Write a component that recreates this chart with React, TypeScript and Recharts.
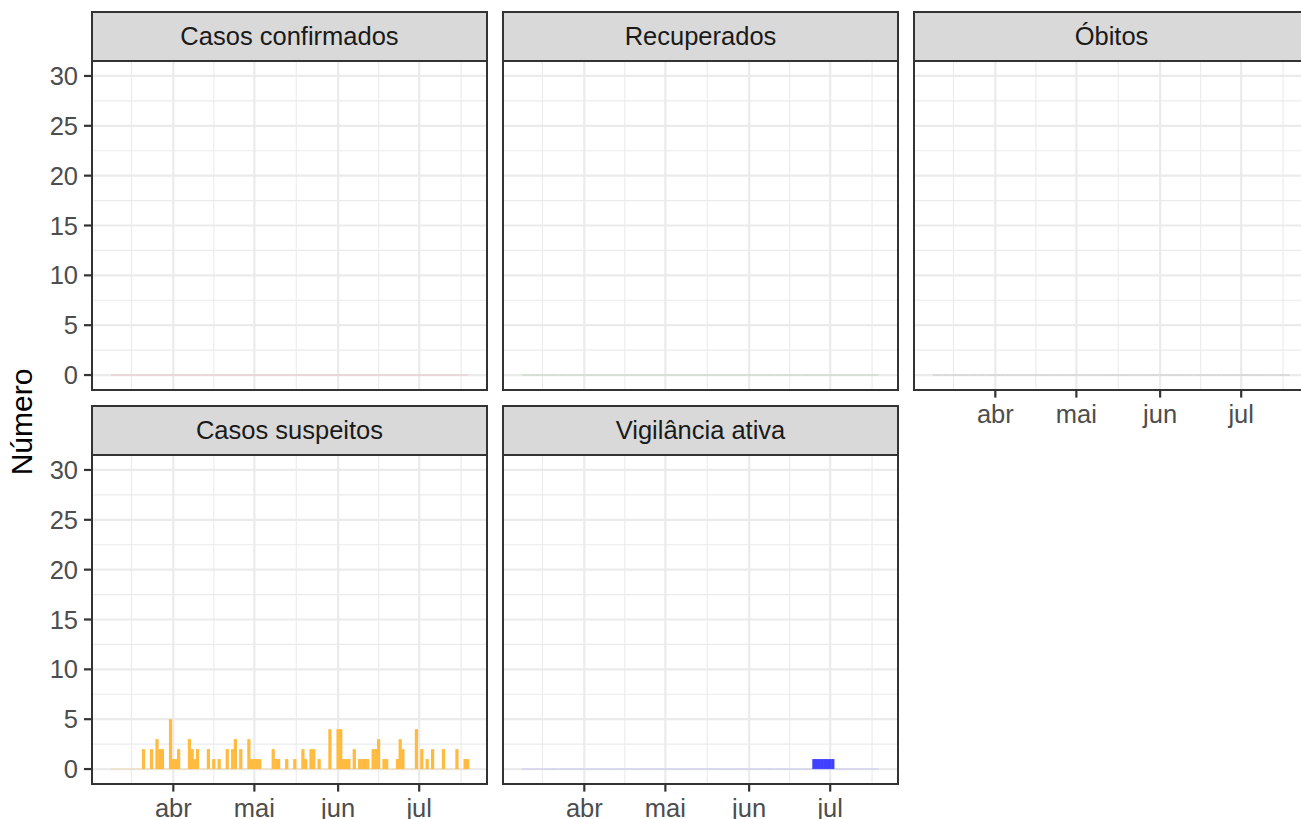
import { ComposedChart, Bar, Line, XAxis, YAxis, CartesianGrid } from 'recharts'

// período dos dados (dias com valor 0 também aparecem como linha tênue)
const inicio = '03-09'
const fim = '07-19'

const suspeitosDatas = [
  '03-21', '03-24', '03-26', '03-27', '03-28', '03-31', '04-01', '04-02', '04-03', '04-07',
  '04-08', '04-09', '04-10', '04-14', '04-16', '04-18', '04-21', '04-23', '04-24', '04-26',
  '04-29', '04-30', '05-01', '05-02', '05-03', '05-08', '05-09', '05-10', '05-13', '05-16',
  '05-19', '05-20', '05-22', '05-23', '05-25', '05-29', '06-01', '06-02', '06-03', '06-04',
  '06-05', '06-07', '06-09', '06-10', '06-11', '06-12', '06-14', '06-15', '06-16', '06-18',
  '06-19', '06-23', '06-24', '06-25', '06-30', '07-02', '07-04', '07-06', '07-10', '07-15',
  '07-18', '07-19',
]
const suspeitosValores = [
  2, 2, 3, 2, 2, 5, 1, 1, 2, 3,
  2, 1, 2, 2, 1, 1, 2, 2, 3, 2,
  3, 1, 1, 1, 1, 2, 1, 1, 1, 1,
  2, 1, 2, 2, 1, 4, 4, 4, 1, 1,
  1, 2, 1, 1, 1, 1, 2, 2, 3, 1,
  1, 1, 3, 2, 4, 2, 1, 2, 2, 2,
  1, 1,
]

const vigilanciaDatas = ['06-25', '06-26', '06-27', '06-28', '06-29', '06-30', '07-01', '07-02']
const vigilanciaValores = [1, 1, 1, 1, 1, 1, 1, 1]

const meses = ['abr', 'mai', 'jun', 'jul']
const mesesInicio = ['04-01', '05-01', '06-01', '07-01']
const mesesMenores = ['03-01', '04-01', '05-01', '06-01', '07-01', '08-01']

const yTicks = [0, 5, 10, 15, 20, 25, 30]
const yMenores = [2.5, 7.5, 12.5, 17.5, 22.5, 27.5]

const dia = (md: string) =>
  (Date.UTC(2020, Number(md.slice(0, 2)) - 1, Number(md.slice(3))) - Date.UTC(2020, 3, 1)) / 864e5

const d0 = dia(inicio)
const d1 = dia(fim)
const dias: number[] = []
for (let d = d0; d <= d1; d++) dias.push(d)

const xMaiores = mesesInicio.map(dia)
const xMenores = mesesMenores.slice(1).map((m, i) => (dia(mesesMenores[i]) + dia(m)) / 2)

const lo = d0 - 0.45
const hi = d1 + 0.45
const xDomain = [lo - (hi - lo) * 0.05, hi + (hi - lo) * 0.05]
const yDomain = [-1.5, 31.5]

const PW = 395
const PH = 329
const ESQ = 92
const colunas = [92, 503, 914]
const linhas = [61, 455]
const FONTE = '"Liberation Sans", Arial, Helvetica, sans-serif'
// largura de cada barra: 0.9 dia, com um pouco a mais para as barras vizinhas se fundirem
const largBarra = (PW / (xDomain[1] - xDomain[0])) * 0.9 + 0.8

const paineis = [
  { titulo: 'Casos confirmados', datas: [] as string[], valores: [] as number[], cor: '#FF4040', zero: 'rgba(230,120,120,0.35)', col: 0, lin: 0, eixoX: false },
  { titulo: 'Recuperados', datas: [] as string[], valores: [] as number[], cor: '#40A040', zero: 'rgba(110,170,110,0.35)', col: 1, lin: 0, eixoX: false },
  { titulo: 'Óbitos', datas: [] as string[], valores: [] as number[], cor: '#404040', zero: 'rgba(120,120,120,0.3)', col: 2, lin: 0, eixoX: true },
  { titulo: 'Casos suspeitos', datas: suspeitosDatas, valores: suspeitosValores, cor: '#FFBB40', zero: 'rgba(255,187,64,0.35)', col: 0, lin: 1, eixoX: true },
  { titulo: 'Vigilância ativa', datas: vigilanciaDatas, valores: vigilanciaValores, cor: '#4040FF', zero: 'rgba(120,120,255,0.35)', col: 1, lin: 1, eixoX: true },
]

const textoTick = { fill: '#4D4D4D', fontSize: 25.5, fontFamily: FONTE }
const linhaTick = { stroke: '#333', strokeWidth: 2.2 }
// eixos sem rótulos: os ticks continuam calculados (a grade depende deles), só não são desenhados
const semTick = () => <g />

const barra = (props: any) => {
  const { x, y, width, height, fill } = props
  if (!height) return <g />
  const cx = x + width / 2
  return <rect x={cx - largBarra / 2} y={y} width={largBarra} height={height} fill={fill} />
}

function Painel({ p }: { p: (typeof paineis)[number] }) {
  const left = colunas[p.col]
  const top = linhas[p.lin]
  const mapa = new Map(p.datas.map((m, i) => [dia(m), p.valores[i]]))
  const dados = dias.map((d) => ({ d, v: mapa.get(d) ?? 0, z: 0 }))
  const eixoY = p.col === 0

  return (
    <>
      <div
        style={{
          position: 'absolute', left: left - 1, top: top - 50, width: PW + 2, height: 51,
          boxSizing: 'border-box', border: '2.2px solid #333', background: '#D9D9D9',
          display: 'flex', alignItems: 'center', justifyContent: 'center',
          fontSize: 25.5, color: '#1A1A1A', paddingBottom: 1,
        }}
      >
        {p.titulo}
      </div>
      <div style={{ position: 'absolute', left: left - ESQ, top }}>
        <ComposedChart width={ESQ + PW} height={PH + 60} data={dados} margin={{ top: 0, right: 0, bottom: 0, left: 0 }}>
          <CartesianGrid stroke="#EBEBEB" strokeWidth={1.1} horizontalValues={yMenores} verticalValues={xMenores} />
          <CartesianGrid stroke="#EBEBEB" strokeWidth={2.2} horizontalValues={yTicks} verticalValues={xMaiores} />
          <XAxis
            type="number"
            dataKey="d"
            domain={xDomain}
            allowDataOverflow
            ticks={xMaiores}
            tickFormatter={(v: number) => meses[xMaiores.indexOf(v)]}
            axisLine={false}
            tick={p.eixoX ? textoTick : semTick}
            tickLine={p.eixoX ? linhaTick : false}
            tickSize={7.6}
            tickMargin={7}
            height={60}
          />
          <YAxis
            type="number"
            domain={yDomain}
            allowDataOverflow
            ticks={yTicks}
            width={ESQ}
            axisLine={false}
            tick={eixoY ? textoTick : semTick}
            tickLine={eixoY ? linhaTick : false}
            tickSize={8}
            tickMargin={6}
          />
          <Line dataKey="z" stroke={p.zero} strokeWidth={1} strokeDasharray="2.43 0.27" dot={false} activeDot={false} isAnimationActive={false} />
          <Bar dataKey="v" fill={p.cor} shape={barra} isAnimationActive={false} />
        </ComposedChart>
      </div>
      <div
        style={{
          position: 'absolute', left: left - 1, top: top - 1, width: PW + 2, height: PH + 2,
          boxSizing: 'border-box', border: '2.2px solid #333', pointerEvents: 'none',
        }}
      />
    </>
  )
}

export default function App() {
  return (
    <div
      style={{
        position: 'fixed', left: 0, top: 0, width: 1301, height: 819, overflow: 'hidden',
        background: '#fff', fontFamily: FONTE,
      }}
    >
      <div
        style={{
          position: 'absolute', left: 22, top: 422, transform: 'translate(-50%, -50%) rotate(-90deg)',
          fontSize: 30, color: '#000', whiteSpace: 'nowrap',
        }}
      >
        Número
      </div>
      {paineis.map((p) => (
        <Painel key={p.titulo} p={p} />
      ))}
    </div>
  )
}
